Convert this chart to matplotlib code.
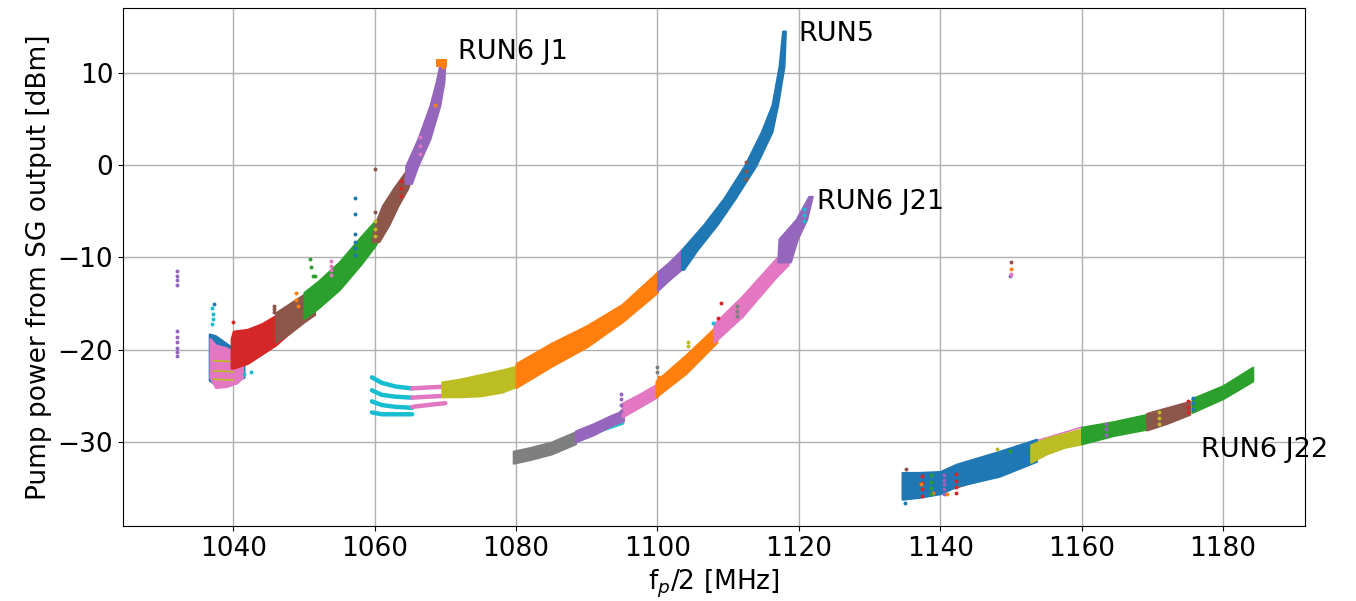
import matplotlib
matplotlib.use("Agg")
import matplotlib.pyplot as plt

# ---------------- data ----------------
# Shallow bands: x positions [MHz], upper and lower power edges [dBm]
# Steep bands: power levels [dBm], left and right frequency edges [MHz]
# RUN6 J1
j1_blue_x = [1036.6, 1037.5, 1039.5, 1041.5]
j1_blue_hi = [-18.3, -18.5, -19.6, -20.5]
j1_blue_lo = [-23.3, -23.8, -23.5, -23.0]
j1_pink_x = [1036.7, 1037.5, 1039.0, 1040.5, 1041.3]
j1_pink_hi = [-18.8, -19.5, -19.8, -20.5, -21.0]
j1_pink_lo = [-23.0, -24.1, -24.0, -23.6, -23.0]
j1_red_x = [1039.7, 1040.0, 1042.0, 1044.0, 1046.0, 1048.5]
j1_red_hi = [-18.8, -18.0, -17.8, -17.2, -16.3, -15.3]
j1_red_lo = [-22.0, -22.0, -21.5, -20.5, -19.5, -17.8]
j1_brown1_x = [1046.0, 1048.0, 1050.0, 1051.5]
j1_brown1_hi = [-16.0, -15.0, -14.0, -13.4]
j1_brown1_lo = [-19.2, -18.2, -17.0, -16.2]
j1_green_x = [1050.0, 1052.0, 1055.0, 1058.0, 1060.0, 1060.6]
j1_green_hi = [-13.8, -12.6, -10.5, -7.8, -6.1, -6.0]
j1_green_lo = [-16.6, -15.5, -13.5, -10.8, -8.8, -8.0]
j1_brown2_y = [-8.3, -6.5, -4.4, -2.5, -0.8]
j1_brown2_xl = [1059.6, 1060.0, 1061.1, 1062.7, 1064.3]
j1_brown2_xr = [1060.6, 1062.0, 1063.3, 1064.7, 1065.4]
j1_purple_y = [-2.0, -0.1, 2.8, 6.4, 9.0, 10.8]
j1_purple_xl = [1064.3, 1064.4, 1066.1, 1067.8, 1068.7, 1069.2]
j1_purple_xr = [1065.2, 1066.1, 1067.8, 1069.2, 1069.8, 1069.9]

# RUN5
r5_cyan_x = [1059.6, 1061.0, 1063.0, 1065.3]
r5_cyan_y1 = [-23.0, -23.6, -24.0, -24.2]
r5_cyan_y2 = [-24.4, -24.9, -25.1, -25.2]
r5_cyan_y3 = [-25.6, -26.0, -26.2, -26.3]
r5_cyan_y4 = [-26.8, -27.0, -27.0, -27.0]
r5_pink_x = [1065.3, 1067.5, 1070.0]
r5_pink_y1 = [-24.2, -24.1, -24.0]
r5_pink_y2 = [-25.2, -25.1, -25.0]
r5_pink_y3 = [-26.2, -26.0, -25.8]
r5_olive_x = [1069.5, 1072.0, 1075.0, 1078.0, 1080.0]
r5_olive_hi = [-23.5, -23.2, -22.7, -22.2, -21.8]
r5_olive_lo = [-25.1, -25.1, -25.0, -24.6, -24.0]
r5_orange_x = [1080.0, 1085.0, 1090.0, 1095.0, 1100.0]
r5_orange_hi = [-21.5, -19.3, -17.4, -15.1, -11.6]
r5_orange_lo = [-24.1, -21.8, -19.7, -17.0, -13.8]
r5_purple_x = [1100.0, 1101.7, 1103.4]
r5_purple_hi = [-11.6, -10.5, -9.2]
r5_purple_lo = [-13.6, -12.4, -11.3]
r5_blue_y = [-11.3, -9.2, -6.4, -3.6, -0.1, 3.6, 6.5, 10.7, 14.5]
r5_blue_xl = [1103.4, 1103.4, 1106.6, 1109.4, 1112.3, 1114.7, 1116.2, 1117.2, 1117.7]
r5_blue_xr = [1103.7, 1105.6, 1108.5, 1111.0, 1113.9, 1116.2, 1117.0, 1117.9, 1118.1]

# RUN6 J21
j21_gray_x = [1079.6, 1082.0, 1085.0, 1088.4]
j21_gray_hi = [-31.0, -30.6, -30.0, -28.9]
j21_gray_lo = [-32.3, -31.9, -31.3, -30.2]
j21_purple1_x = [1088.4, 1091.0, 1093.5, 1095.2]
j21_purple1_hi = [-28.8, -28.0, -27.1, -26.6]
j21_purple1_lo = [-30.0, -29.2, -28.2, -27.7]
j21_pink1_x = [1095.0, 1097.5, 1100.0]
j21_pink1_hi = [-25.8, -24.8, -23.7]
j21_pink1_lo = [-27.3, -26.2, -25.1]
j21_orange_x = [1099.8, 1104.0, 1108.4]
j21_orange_hi = [-23.4, -20.6, -17.4]
j21_orange_lo = [-25.1, -22.6, -19.2]
j21_pink2_x = [1108.0, 1112.0, 1116.7, 1118.5]
j21_pink2_hi = [-17.2, -14.2, -10.2, -9.0]
j21_pink2_lo = [-19.2, -16.4, -12.2, -10.8]
j21_purple2_y = [-10.5, -8.0, -5.9, -3.4]
j21_purple2_xl = [1117.0, 1117.2, 1119.6, 1121.4]
j21_purple2_xr = [1118.8, 1119.8, 1121.1, 1121.9]

# RUN6 J22
j22_blue_x = [1134.6, 1137.0, 1140.0, 1142.3, 1148.4, 1153.6]
j22_blue_hi = [-33.3, -33.3, -33.2, -32.4, -31.0, -29.7]
j22_blue_lo = [-36.2, -36.0, -35.6, -34.8, -33.7, -32.1]
j22_olive_x = [1152.8, 1155.0, 1157.5, 1160.0]
j22_olive_hi = [-30.3, -29.6, -29.1, -28.6]
j22_olive_lo = [-32.2, -31.3, -30.6, -30.2]
j22_green1_x = [1160.0, 1164.5, 1169.3]
j22_green1_hi = [-28.4, -27.8, -27.0]
j22_green1_lo = [-30.2, -29.3, -28.6]
j22_brown_x = [1169.2, 1172.0, 1175.3]
j22_brown_hi = [-26.9, -26.3, -25.6]
j22_brown_lo = [-28.7, -28.0, -27.0]
j22_green2_x = [1175.6, 1180.0, 1184.2]
j22_green2_hi = [-25.3, -23.9, -21.9]
j22_green2_lo = [-26.8, -25.3, -23.4]

# Isolated points (x, y) per colour
pts_purple_x = [1032.0] * 10 + [1094.9] * 4 + [1163.5] * 3 + [1140.6] * 5 + [1149.8]
pts_purple_y = [-11.5, -12.0, -12.5, -13.0, -18.0, -18.6, -19.2, -19.8, -20.3, -20.7,
                -24.8, -25.4, -26.0, -26.6, -28.1, -28.6, -29.2,
                -33.6, -34.1, -34.6, -35.1, -35.6, -12.0]
pts_cyan_x = [1037.0, 1037.1, 1037.2, 1037.0, 1041.5, 1042.5, 1120.7, 1120.7, 1120.7, 1107.8]
pts_cyan_y = [-15.5, -16.1, -16.7, -17.2, -22.6, -22.4, -4.8, -5.4, -6.1, -17.1]
pts_blue_x = [1037.3, 1057.2, 1057.2, 1057.2, 1057.2, 1057.2, 1057.2, 1135.0, 1175.8, 1175.8, 1175.8]
pts_blue_y = [-15.1, -3.6, -5.3, -7.5, -8.3, -9.0, -9.7, -36.6, -25.2, -25.8, -26.4]
pts_red_x = [1039.9, 1063.7, 1063.7, 1063.7, 1109.0, 1108.5, 1137.4, 1137.4, 1137.4, 1137.4,
             1142.3, 1142.3, 1142.3, 1142.3, 1175.0, 1175.0, 1175.0]
pts_red_y = [-17.0, -1.7, -2.5, -3.4, -14.9, -16.6, -33.7, -34.4, -35.1, -35.8,
             -33.5, -34.2, -34.9, -35.5, -25.6, -26.2, -26.8]
pts_orange_x = [1048.9, 1048.9, 1049.1, 1068.6, 1069.4, 1069.6, 1100.2, 1139.0, 1141.0, 1137.3, 1150.0]
pts_orange_y = [-13.9, -14.6, -15.3, 6.5, 11.2, 10.6, -23.0, -35.5, -35.6, -34.6, -11.3]
pts_green_x = [1050.8, 1051.0, 1051.3, 1051.5, 1050.6, 1050.9, 1051.2, 1051.6, 1138.7, 1138.7, 1138.7, 1138.7, 1149.8]
pts_green_y = [-10.2, -11.1, -12.0, -12.0, -13.6, -14.2, -14.8, -15.5, -33.6, -34.3, -35.0, -35.6, -31.0]
pts_brown_x = [1045.8, 1045.8, 1045.8, 1060.0, 1060.0, 1112.5, 1112.5, 1112.5, 1135.2, 1150.0]
pts_brown_y = [-15.3, -15.6, -15.9, -0.4, -5.1, 0.3, -0.6, -1.5, -32.9, -10.5]
pts_olive_x = [1060.1, 1060.1, 1060.1, 1104.3, 1104.3, 1148.1, 1171.0, 1171.0, 1171.0]
pts_olive_y = [-6.1, -6.9, -7.7, -19.2, -19.6, -30.8, -26.8, -27.4, -28.0]
pts_pink_x = [1053.8, 1053.8, 1053.8, 1053.8, 1066.4, 1066.4, 1066.4, 1150.0]
pts_pink_y = [-10.4, -10.9, -11.4, -11.9, 3.0, 2.1, 1.2, -11.8]
pts_gray_x = [1111.3, 1111.3, 1111.3, 1099.9, 1099.9]
pts_gray_y = [-15.3, -15.8, -16.4, -21.9, -22.4]
pts_orangetop_x = [1069.3, 1069.7]
pts_orangetop_y = [11.0, 11.0]

run_labels = ["RUN6 J1", "RUN5", "RUN6 J21", "RUN6 J22"]
run_label_x = [1071.8, 1119.9, 1122.6, 1176.9]
run_label_y = [12.2, 14.2, -4.0, -30.9]

# ---------------- plotting ----------------
C = {"blue": "#1f77b4", "orange": "#ff7f0e", "green": "#2ca02c", "red": "#d62728",
     "purple": "#9467bd", "brown": "#8c564b", "pink": "#e377c2", "gray": "#7f7f7f",
     "olive": "#bcbd22", "cyan": "#17becf"}

fig = plt.figure(figsize=(13.56, 6.01), dpi=100)
ax = fig.add_axes([0.0907, 0.1248, 0.8717, 0.8619])


def band(x, hi, lo, color, z=2):
    ax.fill_between(x, lo, hi, color=color, lw=1.5, edgecolor=color, zorder=z)


def vband(y, xl, xr, color, z=2):
    ax.fill_betweenx(y, xl, xr, color=color, lw=1.5, edgecolor=color, zorder=z)


def trace(x, y, color, lw=3.2, z=2):
    ax.plot(x, y, color=color, lw=lw, solid_capstyle="round", zorder=z)


# RUN6 J1
band(j1_blue_x, j1_blue_hi, j1_blue_lo, C["blue"])
band(j1_pink_x, j1_pink_hi, j1_pink_lo, C["pink"], 2.1)
trace([1037.2, 1040.0], [-21.2, -21.3], C["olive"], 1.2, 2.2)
trace([1037.2, 1040.0], [-22.3, -22.4], C["olive"], 1.2, 2.2)
trace([1037.2, 1040.0], [-23.2, -23.3], C["olive"], 1.2, 2.2)
band(j1_red_x, j1_red_hi, j1_red_lo, C["red"], 2.3)
band(j1_brown1_x, j1_brown1_hi, j1_brown1_lo, C["brown"], 2.4)
band(j1_green_x, j1_green_hi, j1_green_lo, C["green"], 2.5)
vband(j1_brown2_y, j1_brown2_xl, j1_brown2_xr, C["brown"], 2.55)
vband(j1_purple_y, j1_purple_xl, j1_purple_xr, C["purple"], 2.6)

# RUN5
for yy in (r5_cyan_y1, r5_cyan_y2, r5_cyan_y3, r5_cyan_y4):
    trace(r5_cyan_x, yy, C["cyan"])
for yy in (r5_pink_y1, r5_pink_y2, r5_pink_y3):
    trace(r5_pink_x, yy, C["pink"])
band(r5_olive_x, r5_olive_hi, r5_olive_lo, C["olive"], 2.2)
band(r5_orange_x, r5_orange_hi, r5_orange_lo, C["orange"], 2.3)
band(r5_purple_x, r5_purple_hi, r5_purple_lo, C["purple"], 2.3)
vband(r5_blue_y, r5_blue_xl, r5_blue_xr, C["blue"], 2.3)

# RUN6 J21
band(j21_gray_x, j21_gray_hi, j21_gray_lo, C["gray"])
trace([1086.0, 1095.2], [-30.4, -28.0], C["cyan"], 1.5, 1.9)
band(j21_purple1_x, j21_purple1_hi, j21_purple1_lo, C["purple"])
band(j21_pink1_x, j21_pink1_hi, j21_pink1_lo, C["pink"])
band(j21_orange_x, j21_orange_hi, j21_orange_lo, C["orange"])
band(j21_pink2_x, j21_pink2_hi, j21_pink2_lo, C["pink"])
vband(j21_purple2_y, j21_purple2_xl, j21_purple2_xr, C["purple"], 2.1)

# RUN6 J22
trace([1142.0, 1152.5], [-35.0, -32.3], C["red"], 1.8, 1.9)
band(j22_blue_x, j22_blue_hi, j22_blue_lo, C["blue"])
trace([1153.5, 1160.0], [-29.9, -28.4], C["pink"], 1.2, 1.9)
band(j22_olive_x, j22_olive_hi, j22_olive_lo, C["olive"])
band(j22_green1_x, j22_green1_hi, j22_green1_lo, C["green"])
band(j22_brown_x, j22_brown_hi, j22_brown_lo, C["brown"])
band(j22_green2_x, j22_green2_hi, j22_green2_lo, C["green"])

# isolated points
for name, xs, ys in [("purple", pts_purple_x, pts_purple_y), ("cyan", pts_cyan_x, pts_cyan_y),
                     ("blue", pts_blue_x, pts_blue_y), ("red", pts_red_x, pts_red_y),
                     ("orange", pts_orange_x, pts_orange_y), ("green", pts_green_x, pts_green_y),
                     ("brown", pts_brown_x, pts_brown_y), ("olive", pts_olive_x, pts_olive_y),
                     ("pink", pts_pink_x, pts_pink_y), ("gray", pts_gray_x, pts_gray_y)]:
    ax.scatter(xs, ys, s=8, color=C[name], linewidths=0, zorder=3)
ax.scatter(pts_orangetop_x, pts_orangetop_y, s=40, marker="s", color=C["orange"],
           linewidths=0, zorder=3)

for t, tx, ty in zip(run_labels, run_label_x, run_label_y):
    ax.text(tx, ty, t, fontsize=19.5, va="center", ha="left", clip_on=False, zorder=5)

ax.set_xlim(1024.4, 1191.6)
ax.set_ylim(-39.1, 17.0)
ax.set_xticks([1040, 1060, 1080, 1100, 1120, 1140, 1160, 1180])
ax.set_yticks([-30, -20, -10, 0, 10])
ax.grid(True, color="#b0b0b0", lw=1.0)
ax.set_axisbelow(True)
ax.tick_params(labelsize=19)
ax.set_xlabel("f$_p$/2 [MHz]", fontsize=19)
ax.set_ylabel("Pump power from SG output [dBm]", fontsize=19)

fig.savefig("out.png", dpi=100)
